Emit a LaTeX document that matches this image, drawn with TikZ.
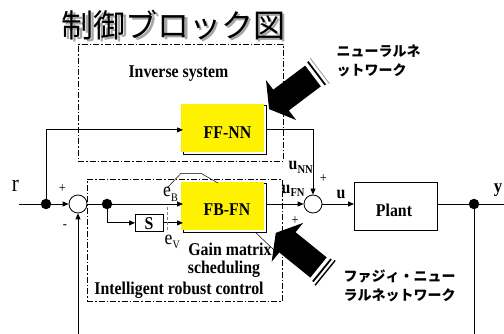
\documentclass[tikz,border=0pt]{standalone}
\usepackage{fontspec}
\setmainfont{Liberation Serif}[FakeStretch=0.88]
\newfontfamily\jp{Noto Sans CJK JP}
\usetikzlibrary{arrows.meta,calc}
\newcommand{\myblockarrow}[4]{%
  \begin{scope}[shift={#1},rotate=#2]
    \fill[black] (0,-13) -- (40,-13) -- (40,-25) -- (55,0) -- (40,25) -- (40,13) -- (0,13) -- cycle;
    \draw[line width=1.8pt] (-4.5,-14.5) -- (-4.5,14.5);
    \draw[line width=#4,#3] (-8.5,-16) -- (-8.5,16);
  \end{scope}}
\begin{document}
\begin{tikzpicture}[x=1pt,y=-1pt,
  ln/.style={line width=0.8pt},
  arr/.style={ln,-{Triangle[length=6pt,width=5pt]}},
  dd/.style={line width=0.7pt,dash pattern=on 6pt off 2pt on 1.5pt off 2pt},
  dot/.style={circle,fill=black,inner sep=0,minimum size=10.5pt},
  sumc/.style={circle,draw,line width=0.8pt,minimum size=18pt,inner sep=0},
  blk/.style={draw,line width=0.8pt,anchor=north west,inner sep=0},
  lbl/.style={font=\bfseries\fontsize{18}{18}\selectfont,inner sep=0,anchor=base},
  pm/.style={font=\fontsize{14}{14}\selectfont,inner sep=0},
  jl/.style={font=\jp\bfseries\fontsize{14}{14}\selectfont,inner sep=0,anchor=base west},
  ttl/.style={font=\jp\fontsize{32}{32}\selectfont,inner sep=0}]
\useasboundingbox (0,0) rectangle (504,334);

% title
\node[ttl,text=black!35] (titleshadow) at (176,27.5) {制御ブロック図};
\node[ttl] (title) at (173.5,25) {制御ブロック図};

% dash-dot frames
\node[dd,draw,anchor=north west,minimum width=205,minimum height=117,inner sep=0] (invbox) at (78,44) {};
\node[dd,draw,anchor=north west,minimum width=195,minimum height=122,inner sep=0] (irbox) at (87,179) {};
\node[lbl] (invtxt) at (178.5,78) {Inverse system};

% blocks
\node[blk,minimum width=82.5,minimum height=49] (ffnn) at (183,105) {};
\fill[yellow] ($(ffnn.north west)+(-2,-1)$) rectangle ($(ffnn.south east)+(-2,-2.5)$);
\node[lbl] (fftxt) at (227.5,139) {FF-NN};

\node[blk,minimum width=82.5,minimum height=49] (fbfn) at (183,183) {};
\fill[yellow] ($(fbfn.north west)+(-2,-1)$) rectangle ($(fbfn.south east)+(-2,-2.5)$);
\node[lbl] (fbtxt) at (227,216) {FB-FN};

\node[blk,minimum width=83,minimum height=48.5] (plant) at (354,182) {};
\node[lbl] (planttxt) at (394,217) {Plant};

\node[blk,minimum width=28,minimum height=17] (sb) at (135,214) {};
\node[lbl] (stxt) at (149,229.3) {S};

% summing junctions and dots
\node[sumc] (sum1) at (78,204) {};
\node[sumc] (sum2) at (313,204) {};
\coordinate (rin) at (19,204);
\coordinate (yout) at (504,204);
\coordinate (fbl) at (78,334);
\coordinate (fbr) at (474,334);

% connectors
\draw[arr] (rin) -- (sum1.west);
\draw[arr] (46,204) |- (ffnn.west);
\draw[arr] (ffnn.east) -| (sum2.north);
\draw[arr] (sum1.east) -- (sum1.east -| fbfn.west);
\draw[arr] (107,204) |- (sb.west);
\draw[arr] (sb.east) -- (sb.east -| fbfn.west);
\draw[arr] (fbfn.east |- sum2.west) -- (sum2.west);
\draw[arr] (sum2.east) -- (sum2.east -| plant.west);
\draw[ln] (plant.east |- sum2.east) -- (yout);
\draw[ln] (474,204) -- (fbr);
\draw[arr] (fbl) -- (sum1.south);

\node[dot] (d1) at (46,204) {};
\node[dot] (d2) at (107,204) {};
\node[dot] (d3) at (474,204) {};

% signs
\node[pm] (p1) at (62.3,188.3) {+};
\node[pm] (m1) at (65,227) {-};
\node[pm] (p2) at (323.3,178.3) {+};
\node[pm] (p3) at (295,221) {+};

% signal labels
\node[inner sep=0,anchor=base,font=\fontsize{24}{24}\selectfont] (rl) at (15.5,191.5) {r};
\node[inner sep=0,anchor=base,font=\bfseries\fontsize{19}{19}\selectfont] (yl) at (498,193) {y};
\node[inner sep=0,anchor=base,font=\bfseries\fontsize{18}{18}\selectfont] (ul) at (341,198.3) {u};
\node[inner sep=0,anchor=base west,font=\bfseries\fontsize{18}{18}\selectfont] (unn) at (288.5,170) {u\raisebox{-3.3pt}{\fontsize{12}{12}\selectfont NN}};
\node[inner sep=0,anchor=base west,font=\bfseries\fontsize{18}{18}\selectfont] (ufn) at (281.5,193.3) {u\raisebox{-3.4pt}{\fontsize{12}{12}\selectfont FN}};
\node[inner sep=0,anchor=base west,font=\fontsize{20}{20}\selectfont] (eb) at (163,196.7) {e\raisebox{-5pt}{\fontsize{11.5}{11.5}\selectfont B}};
\node[inner sep=0,anchor=base west,font=\fontsize{20}{20}\selectfont] (ev) at (164.5,245) {e\raisebox{-3.3pt}{\fontsize{11.5}{11.5}\selectfont V}};

% callouts
\coordinate (cb1) at (167,188);
\coordinate (cb2) at (181,173.3);
\coordinate (cb3) at (201,173.3);
\coordinate (cb4) at (218,183);
\draw[line width=0.5pt] (cb1) -- (cb2) -- (cb3) -- (cb4);
\coordinate (cg1) at (255,232);
\coordinate (cg2) at (274,250);
\draw[line width=0.5pt] (cg1) -- (cg2);
\coordinate (dv1) at (167,207);
\coordinate (dv2) at (167,232);
\draw[gray,line width=0.6pt,dash pattern=on 3pt off 2pt] (dv1) -- (dv2);

\node[lbl] (gain) at (230,255) {Gain matrix};
\node[lbl] (sched) at (224,273.3) {scheduling};
\node[lbl] (irc) at (179,294.5) {Intelligent robust control};

% Japanese labels
\node[jl] (nn1) at (336.5,57) {ニューラルネ};
\node[jl] (nn2) at (336.5,76) {ットワーク};
\node[jl] (fn1) at (343.5,281) {ファジィ・ニュー};
\node[jl] (fn2) at (343.5,300) {ラルネットワーク};

% big block arrows
\myblockarrow{(313,76)}{217}{black!40}{0.8pt}
\myblockarrow{(318.5,267.5)}{141}{black}{1.4pt}
\end{tikzpicture}
\end{document}
